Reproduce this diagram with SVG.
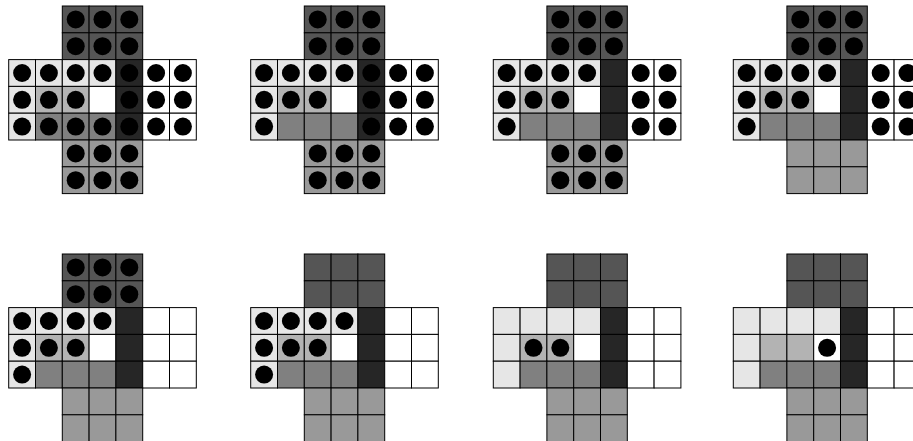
<svg xmlns="http://www.w3.org/2000/svg" xmlns:xlink="http://www.w3.org/1999/xlink" width="913" height="441" viewBox="0 0 913 441">
<style>
#grid rect{stroke:#000;stroke-width:1}
.d{fill:#555555}.k{fill:#262626}.l{fill:#e6e6e6}.m{fill:#b3b3b3}.g{fill:#808080}.b{fill:#999999}.w{fill:#ffffff}
circle{fill:#000}
</style>
<defs>
<g id="grid">
<rect class="d" x="53.6" y="0" width="26.8" height="26.8"/><rect class="d" x="80.4" y="0" width="26.8" height="26.8"/><rect class="d" x="107.2" y="0" width="26.8" height="26.8"/>
<rect class="d" x="53.6" y="26.8" width="26.8" height="26.8"/><rect class="d" x="80.4" y="26.8" width="26.8" height="26.8"/><rect class="d" x="107.2" y="26.8" width="26.8" height="26.8"/>
<rect class="l" x="0" y="53.6" width="26.8" height="26.8"/><rect class="l" x="26.8" y="53.6" width="26.8" height="26.8"/><rect class="l" x="53.6" y="53.6" width="26.8" height="26.8"/><rect class="l" x="80.4" y="53.6" width="26.8" height="26.8"/><rect class="k" x="107.2" y="53.6" width="26.8" height="26.8"/><rect class="w" x="134" y="53.6" width="26.8" height="26.8"/><rect class="w" x="160.8" y="53.6" width="26.8" height="26.8"/>
<rect class="l" x="0" y="80.4" width="26.8" height="26.8"/><rect class="m" x="26.8" y="80.4" width="26.8" height="26.8"/><rect class="m" x="53.6" y="80.4" width="26.8" height="26.8"/><rect class="w" x="80.4" y="80.4" width="26.8" height="26.8"/><rect class="k" x="107.2" y="80.4" width="26.8" height="26.8"/><rect class="w" x="134" y="80.4" width="26.8" height="26.8"/><rect class="w" x="160.8" y="80.4" width="26.8" height="26.8"/>
<rect class="l" x="0" y="107.2" width="26.8" height="26.8"/><rect class="g" x="26.8" y="107.2" width="26.8" height="26.8"/><rect class="g" x="53.6" y="107.2" width="26.8" height="26.8"/><rect class="g" x="80.4" y="107.2" width="26.8" height="26.8"/><rect class="k" x="107.2" y="107.2" width="26.8" height="26.8"/><rect class="w" x="134" y="107.2" width="26.8" height="26.8"/><rect class="w" x="160.8" y="107.2" width="26.8" height="26.8"/>
<rect class="b" x="53.6" y="134" width="26.8" height="26.8"/><rect class="b" x="80.4" y="134" width="26.8" height="26.8"/><rect class="b" x="107.2" y="134" width="26.8" height="26.8"/>
<rect class="b" x="53.6" y="160.8" width="26.8" height="26.8"/><rect class="b" x="80.4" y="160.8" width="26.8" height="26.8"/><rect class="b" x="107.2" y="160.8" width="26.8" height="26.8"/>
</g>
<g id="pA">
<circle cx="67" cy="13.4" r="9"/><circle cx="93.8" cy="13.4" r="9"/><circle cx="120.6" cy="13.4" r="9"/>
<circle cx="67" cy="40.2" r="9"/><circle cx="93.8" cy="40.2" r="9"/><circle cx="120.6" cy="40.2" r="9"/>
</g>
<g id="pB">
<circle cx="13.4" cy="67" r="9"/><circle cx="40.2" cy="67" r="9"/><circle cx="67" cy="67" r="9"/><circle cx="93.8" cy="67" r="9"/>
<circle cx="13.4" cy="93.8" r="9"/><circle cx="40.2" cy="93.8" r="9"/><circle cx="67" cy="93.8" r="9"/>
<circle cx="13.4" cy="120.6" r="9"/>
</g>
<g id="pC">
<circle cx="40.2" cy="120.6" r="9"/><circle cx="67" cy="120.6" r="9"/><circle cx="93.8" cy="120.6" r="9"/>
</g>
<g id="pD">
<circle cx="120.6" cy="67" r="9"/><circle cx="120.6" cy="93.8" r="9"/><circle cx="120.6" cy="120.6" r="9"/>
</g>
<g id="pE">
<circle cx="67" cy="147.4" r="9"/><circle cx="93.8" cy="147.4" r="9"/><circle cx="120.6" cy="147.4" r="9"/>
<circle cx="67" cy="174.2" r="9"/><circle cx="93.8" cy="174.2" r="9"/><circle cx="120.6" cy="174.2" r="9"/>
</g>
<g id="pF">
<circle cx="147.4" cy="67" r="9"/><circle cx="174.2" cy="67" r="9"/>
<circle cx="147.4" cy="93.8" r="9"/><circle cx="174.2" cy="93.8" r="9"/>
<circle cx="147.4" cy="120.6" r="9"/><circle cx="174.2" cy="120.6" r="9"/>
</g>
</defs>
<rect x="0" y="0" width="913" height="441" fill="#ffffff"/>
<g id="board1" transform="translate(8.7,6)">
<use xlink:href="#grid"/><use xlink:href="#pA"/><use xlink:href="#pB"/><use xlink:href="#pC"/><use xlink:href="#pD"/><use xlink:href="#pE"/><use xlink:href="#pF"/>
</g>
<g id="board2" transform="translate(250.7,6)">
<use xlink:href="#grid"/><use xlink:href="#pA"/><use xlink:href="#pB"/><use xlink:href="#pD"/><use xlink:href="#pE"/><use xlink:href="#pF"/>
</g>
<g id="board3" transform="translate(493.3,6)">
<use xlink:href="#grid"/><use xlink:href="#pA"/><use xlink:href="#pB"/><use xlink:href="#pE"/><use xlink:href="#pF"/>
</g>
<g id="board4" transform="translate(733.3,6)">
<use xlink:href="#grid"/><use xlink:href="#pA"/><use xlink:href="#pB"/><use xlink:href="#pF"/>
</g>
<g id="board5" transform="translate(8.7,254)">
<use xlink:href="#grid"/><use xlink:href="#pA"/><use xlink:href="#pB"/>
</g>
<g id="board6" transform="translate(250.7,254)">
<use xlink:href="#grid"/><use xlink:href="#pB"/>
</g>
<g id="board7" transform="translate(493.3,254)">
<use xlink:href="#grid"/><circle cx="40.2" cy="93.8" r="9"/><circle cx="67" cy="93.8" r="9"/>
</g>
<g id="board8" transform="translate(733.3,254)">
<use xlink:href="#grid"/><circle cx="93.8" cy="93.8" r="9"/>
</g>
<g id="connectors"/>
</svg>
